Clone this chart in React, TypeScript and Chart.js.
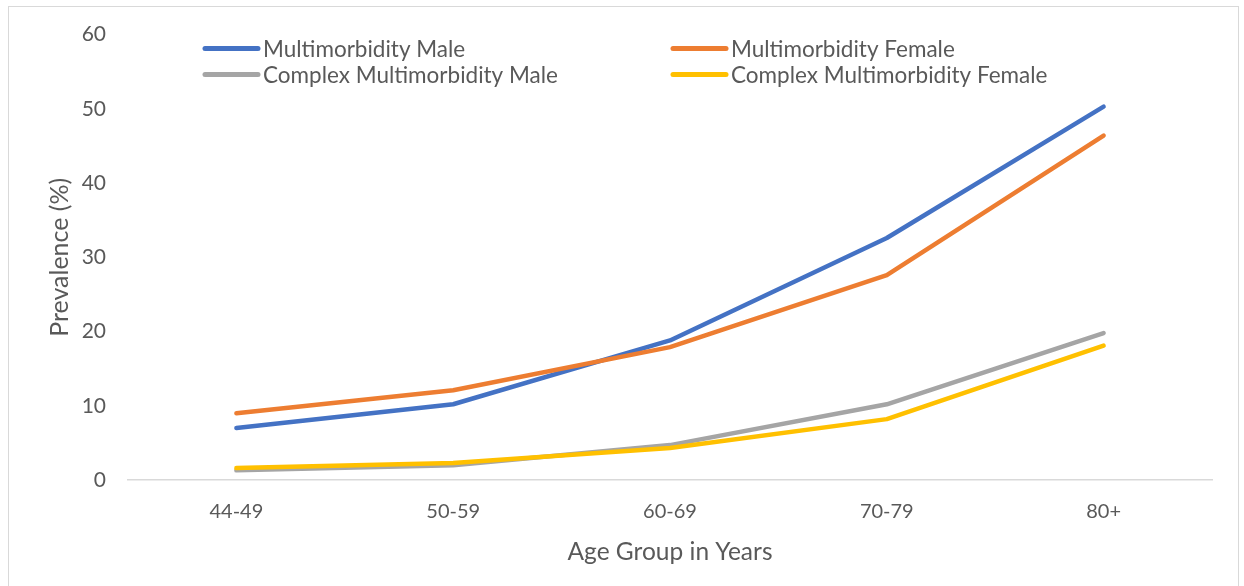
import React, { useEffect, useRef } from "react";
import { Chart, registerables } from "chart.js";

Chart.register(...registerables);

const categories = ["44-49", "50-59", "60-69", "70-79", "80+"];
const multimorbidityMale = [7.0, 10.2, 18.8, 32.6, 50.3];
const multimorbidityFemale = [9.0, 12.1, 17.9, 27.6, 46.4];
const complexMale = [1.3, 2.0, 4.7, 10.2, 19.8];
const complexFemale = [1.6, 2.3, 4.3, 8.2, 18.1];
const seriesNames = [
  "Multimorbidity Male",
  "Multimorbidity Female",
  "Complex Multimorbidity Male",
  "Complex Multimorbidity Female",
];
const seriesColors = ["#4472C4", "#ED7D31", "#A5A5A5", "#FFC000"];
const yMin = 0;
const yMax = 60;
const yStep = 10;
const yTitle = "Prevalence (%)";
const xTitle = "Age Group in Years";

const FONT = "Lato, 'Open Sans', sans-serif";
const TEXT = "#595959";

const legendPlugin = {
  id: "gridLegend",
  afterDraw(chart: any) {
    const { ctx, chartArea } = chart;
    const cols = [chartArea.left + 77, chartArea.left + 545];
    const rows = [chartArea.top + 14, chartArea.top + 40];
    ctx.save();
    ctx.font = `22.5px ${FONT}`;
    ctx.textBaseline = "middle";
    ctx.textAlign = "left";
    chart.data.datasets.forEach((ds: any, i: number) => {
      const x = cols[i % 2];
      const y = rows[Math.floor(i / 2)];
      ctx.strokeStyle = ds.borderColor;
      ctx.lineWidth = 5;
      ctx.lineCap = "round";
      ctx.beginPath();
      ctx.moveTo(x, y);
      ctx.lineTo(x + 53, y);
      ctx.stroke();
      ctx.fillStyle = TEXT;
      ctx.fillText(ds.label, x + 58, y + 1);
    });
    ctx.restore();
  },
};

export default function App() {
  const ref = useRef<HTMLCanvasElement | null>(null);

  useEffect(() => {
    if (!ref.current) return;
    const data = [multimorbidityMale, multimorbidityFemale, complexMale, complexFemale];
    const chart = new Chart(ref.current, {
      type: "line",
      data: {
        labels: categories,
        datasets: data.map((values, i) => ({
          label: seriesNames[i],
          data: values,
          borderColor: seriesColors[i],
          backgroundColor: seriesColors[i],
          borderWidth: 4.5,
          borderCapStyle: "round" as const,
          borderJoinStyle: "round" as const,
          pointRadius: 0,
          tension: 0,
          fill: false,
          order: 4 - i,
        })),
      },
      options: {
        animation: false,
        responsive: true,
        maintainAspectRatio: false,
        layout: { padding: { top: 34, right: 32, bottom: 0, left: 0 } },
        plugins: {
          legend: { display: false },
          tooltip: { enabled: false },
        },
        scales: {
          x: {
            offset: true,
            grid: { display: false, drawTicks: false },
            border: { display: true, color: "#D9D9D9", width: 1.5 },
            ticks: {
              color: TEXT,
              font: { family: FONT, size: 20 },
              padding: 20,
            },
            title: {
              display: true,
              text: xTitle,
              color: TEXT,
              font: { family: FONT, size: 24.5 },
              padding: { top: 0, bottom: 19 },
            },
            afterFit(scale: any) {
              scale.height = 106;
            },
          },
          y: {
            min: yMin,
            max: yMax,
            grid: { display: false, drawTicks: false },
            border: { display: false },
            ticks: {
              stepSize: yStep,
              color: TEXT,
              font: { family: FONT, size: 21 },
              padding: 22,
            },
            title: {
              display: true,
              text: yTitle,
              color: TEXT,
              font: { family: FONT, size: 25 },
              padding: { top: 45, bottom: 0 },
            },
            afterFit(scale: any) {
              scale.width = 128;
            },
          },
        },
      },
      plugins: [legendPlugin],
    });
    return () => chart.destroy();
  }, []);

  return (
    <div style={{ position: "fixed", left: 0, top: 0, width: 1244, height: 586, background: "#fff" }}>
      <div
        style={{
          position: "absolute",
          left: 8,
          top: 6,
          width: 1231,
          height: 600,
          border: "1.5px solid #D9D9D9",
          boxSizing: "border-box",
        }}
      />
      <div style={{ position: "absolute", left: 0, top: 0, width: 1244, height: 586 }}>
        <canvas ref={ref} />
      </div>
    </div>
  );
}
